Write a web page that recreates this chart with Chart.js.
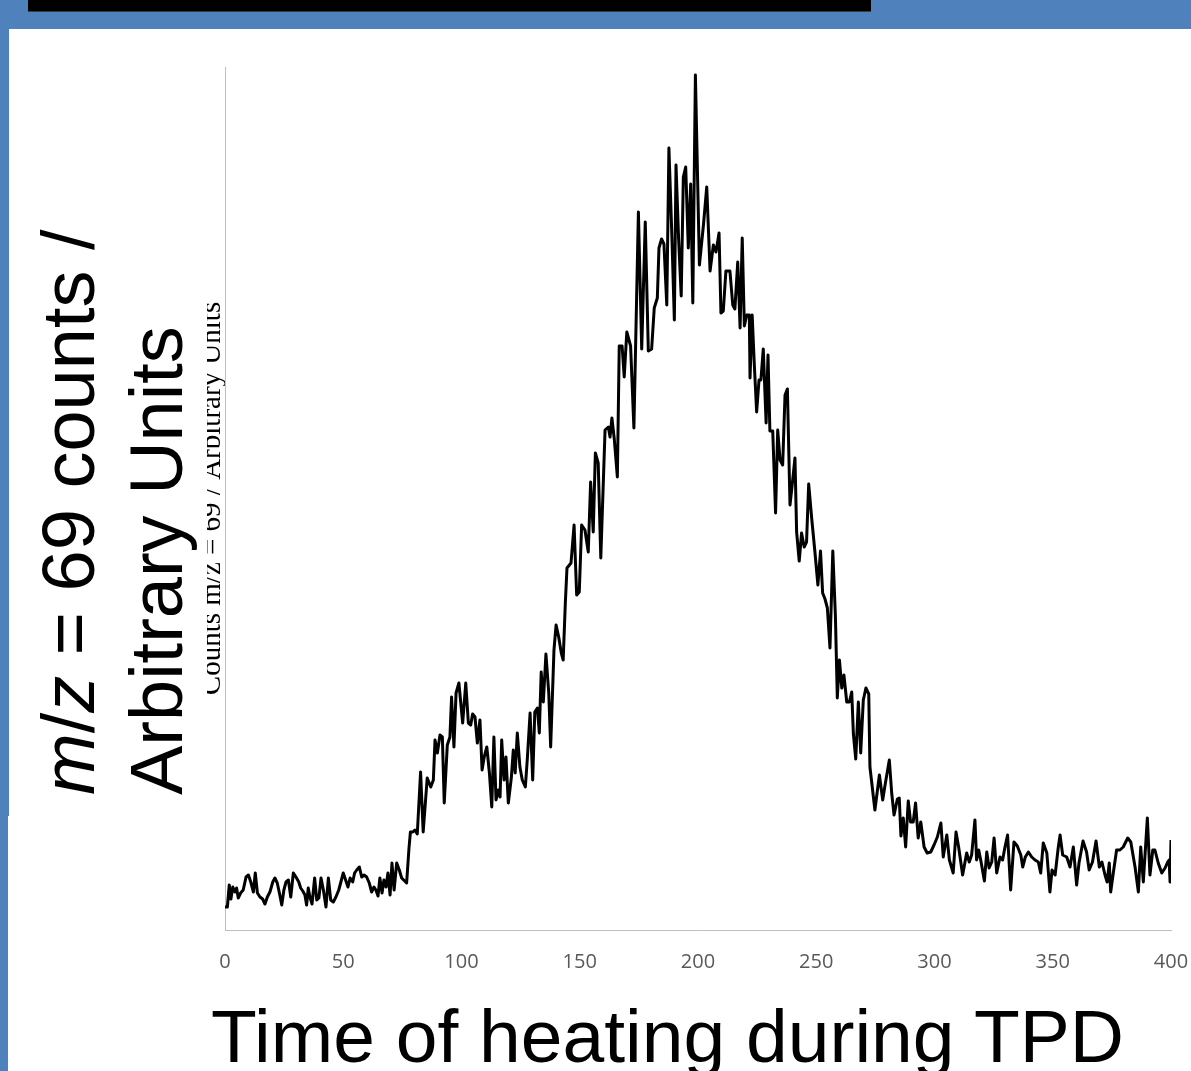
<!DOCTYPE html>
<html>
<head>
<meta charset="utf-8">
<script src="https://cdn.jsdelivr.net/npm/chart.js@4.4.1/dist/chart.umd.min.js"></script>
<style>
  html, body { margin: 0; padding: 0; background: #fff; overflow: hidden; }
  #wrap { position: relative; width: 1191px; height: 1071px; overflow: hidden; background: #fff; }
  #chart { position: absolute; left: 0; top: 0; }
  .band-top { position: absolute; left: 0; top: 0; width: 1191px; height: 29px; background: #4f81bd; }
  .title-bar { position: absolute; left: 28px; top: 0; width: 843px; height: 11px; background: #000; border-bottom: 1px solid #3b3b3b; }
  .band-left1 { position: absolute; left: 0; top: 29px; width: 9px; height: 787px; background: #4f81bd; }
  .band-left2 { position: absolute; left: 0; top: 816px; width: 8px; height: 255px; background: #4f81bd; }
  .ybox { position: absolute; left: 9px; top: 29px; width: 198px; height: 787px; background: #fff; }
  .ylabel {
    position: absolute; left: 25px; top: 795px; width: 700px;
    transform-origin: 0 0; transform: rotate(-90deg);
    font-family: "Liberation Sans", Arial, sans-serif; font-size: 74px; line-height: 88px;
    color: #000; white-space: nowrap;
  }
  .xlabel {
    position: absolute; left: 211px; top: 999px;
    font-family: "Liberation Sans", Arial, sans-serif; font-size: 75px; line-height: 75px;
    color: #000; white-space: nowrap;
  }
</style>
</head>
<body>
<div id="wrap">
  <canvas id="chart" width="1191" height="1071"></canvas>
  <div class="band-top"></div>
  <div class="title-bar"></div>
  <div class="band-left1"></div>
  <div class="band-left2"></div>
  <div class="ybox"></div>
  <div class="ylabel"><i>m</i>/<i>z</i> = 69 counts /<br>Arbitrary Units</div>
  <div class="xlabel">Time of heating during TPD</div>
</div>
<script>
// time of heating (s)
const timeSec = [
  0, 1.0, 1.8, 2.5, 3.3, 4.2, 4.9, 5.6, 6.6, 7.7, 8.9, 9.9, 10.9, 12.0, 12.8, 13.7, 14.8, 15.9, 16.9, 17.9,
  19.0, 20.2, 21.1, 22.1, 23.0, 24.0, 24.9, 25.8, 26.8, 27.8, 28.9, 30.0, 31.2, 32.0, 32.9, 33.8, 34.5, 35.2, 35.9, 36.8,
  37.9, 38.8, 39.7, 40.6, 41.6, 42.7, 43.7, 44.7, 45.8, 46.9, 48.1, 49.0, 50.0, 51.0, 52.0, 52.9, 54.0, 54.8, 55.7, 56.8,
  57.8, 58.8, 59.9, 61.0, 62.0, 63.0, 63.8, 64.7, 65.5, 66.4, 67.2, 68.1, 68.9, 69.8, 70.6, 71.5, 72.6, 73.7, 74.7, 76.8,
  77.8, 78.4, 79.4, 80.3, 81.3, 82.7, 83.8, 85.5, 87.0, 88.1, 88.8, 89.8, 90.9, 91.9, 92.7, 94.0, 95.1, 95.8, 96.8, 97.7,
  98.9, 100.5, 101.8, 102.9, 103.9, 104.7, 105.7, 106.7, 107.8, 108.7, 109.6, 110.7, 111.8, 112.8, 113.7, 114.6, 115.6, 116.3, 117.0, 118.0,
  118.8, 119.8, 121.1, 121.9, 122.7, 123.6, 124.7, 125.7, 127.0, 127.8, 129.0, 130.1, 131.0, 132.1, 132.9, 133.7, 134.6, 135.7, 136.9, 137.7,
  139.1, 140.0, 141.1, 142.2, 143.0, 143.9, 144.6, 146.3, 147.6, 148.7, 149.8, 150.8, 152.2, 153.6, 154.6, 155.7, 156.6, 157.8, 158.9, 160.7,
  162.1, 162.8, 163.6, 164.6, 165.9, 166.7, 167.9, 168.8, 169.9, 171.5, 172.9, 174.8, 176.2, 177.7, 179.0, 180.4, 181.5, 182.8, 183.5, 184.6,
  185.6, 186.8, 187.7, 188.9, 190.0, 190.7, 191.8, 192.9, 193.8, 194.8, 195.9, 196.9, 197.8, 198.9, 200.6, 202.3, 203.7, 205.1, 206.5, 207.6,
  208.9, 209.7, 210.7, 211.8, 213.5, 214.7, 215.6, 216.8, 217.8, 218.7, 219.6, 220.6, 221.7, 222.0, 222.9, 223.8, 224.8, 225.8, 226.6, 227.6,
  228.8, 229.6, 230.4, 231.6, 232.8, 233.7, 234.7, 235.8, 236.8, 237.8, 238.9, 240.0, 241.0, 241.7, 242.8, 243.8, 244.9, 245.9, 246.8, 248.1,
  249.4, 250.7, 251.8, 252.7, 253.7, 254.7, 255.8, 257.0, 258.1, 258.9, 259.8, 260.8, 261.7, 262.9, 264.0, 265.0, 265.7, 266.7, 267.8, 268.8,
  269.9, 271.0, 272.2, 272.7, 274.8, 276.7, 278.1, 279.1, 280.9, 281.9, 282.9, 284.3, 285.1, 285.8, 286.8, 287.8, 288.9, 289.9, 291.0, 292.0,
  293.1, 294.2, 295.6, 296.9, 298.4, 299.8, 301.2, 302.7, 303.7, 305.2, 306.3, 307.9, 309.1, 310.2, 311.9, 313.6, 314.7, 315.7, 317.1, 317.8,
  318.7, 319.7, 321.1, 322.1, 323.1, 324.2, 325.2, 326.3, 327.7, 328.8, 329.8, 330.9, 332.2, 333.6, 335.0, 336.5, 337.3, 338.4, 339.7, 341.1,
  342.5, 343.9, 344.9, 346.0, 347.5, 348.8, 349.7, 351.0, 352.3, 353.1, 354.2, 355.9, 357.3, 358.7, 360.1, 361.1, 362.8, 364.3, 365.4, 366.8,
  368.3, 369.7, 370.8, 372.1, 373.0, 373.9, 374.5, 375.6, 377.0, 378.4, 379.8, 381.7, 383.0, 384.8, 386.2, 387.2, 388.3, 390.0, 391.1, 392.3,
  393.2, 394.6, 396.1, 397.5, 398.6, 399.2, 399.6, 400.0
];

// m/z = 69 counts (arbitrary units)
const counts69 = [
  23, 23, 45, 31, 43, 38, 42, 32, 37, 40, 53, 55, 48, 38, 57, 37, 33, 31, 26, 33,
  38, 48, 52, 47, 37, 25, 40, 48, 50, 33, 57, 53, 48, 42, 39, 35, 25, 42, 33, 26,
  52, 30, 32, 52, 40, 23, 52, 30, 28, 33, 40, 48, 57, 50, 43, 52, 48, 57, 60, 63,
  53, 55, 53, 47, 38, 43, 40, 34, 52, 37, 50, 43, 57, 35, 67, 40, 67, 60, 52, 47,
  82, 98, 98, 100, 96, 158, 98, 152, 143, 150, 190, 177, 195, 193, 127, 185, 193, 233, 183, 237,
  247, 207, 247, 207, 205, 216, 213, 187, 210, 160, 173, 183, 157, 123, 193, 130, 140, 133, 190, 150,
  173, 127, 153, 180, 157, 197, 163, 150, 143, 170, 217, 150, 218, 222, 197, 258, 228, 276, 237, 183,
  280, 305, 293, 277, 270, 327, 362, 367, 405, 335, 338, 405, 400, 378, 448, 398, 477, 467, 372, 500,
  503, 493, 512, 491, 453, 584, 584, 553, 598, 584, 502, 718, 581, 708, 579, 581, 622, 632, 682, 691,
  686, 625, 782, 698, 610, 765, 691, 634, 753, 763, 682, 746, 627, 855, 665, 705, 743, 659, 685, 678,
  697, 617, 619, 659, 659, 625, 621, 668, 602, 692, 604, 615, 615, 552, 615, 566, 518, 550, 550, 581,
  507, 575, 499, 499, 417, 500, 470, 465, 535, 541, 425, 449, 472, 398, 369, 397, 383, 388, 446, 411,
  379, 345, 379, 337, 331, 322, 282, 379, 314, 232, 270, 242, 255, 228, 228, 238, 196, 171, 228, 177,
  230, 242, 236, 163, 120, 155, 130, 145, 170, 137, 115, 131, 132, 94, 112, 83, 129, 108, 108, 127,
  92, 108, 83, 77, 78, 85, 93, 107, 73, 95, 70, 57, 98, 83, 55, 77, 68, 75, 110, 70,
  80, 68, 49, 78, 62, 68, 92, 57, 73, 70, 83, 95, 40, 88, 84, 75, 63, 73, 78, 73,
  70, 68, 57, 87, 77, 38, 60, 55, 82, 95, 75, 73, 63, 83, 45, 67, 89, 78, 60, 68,
  89, 63, 68, 55, 48, 67, 38, 57, 80, 80, 83, 92, 88, 63, 38, 83, 48, 112, 55, 80,
  80, 67, 57, 62, 68, 70, 48, 90
];

const xTicks = [0, 50, 100, 150, 200, 250, 300, 350, 400];

const points = timeSec.map((t, i) => ({ x: t, y: counts69[i] }));

const ctx = document.getElementById('chart').getContext('2d');
new Chart(ctx, {
  type: 'line',
  data: {
    datasets: [{
      data: points,
      borderColor: '#000000',
      borderWidth: 3,
      borderJoinStyle: 'round',
      pointRadius: 0,
      tension: 0,
      fill: false
    }]
  },
  options: {
    responsive: false,
    animation: false,
    devicePixelRatio: 1,
    layout: { padding: { left: 198.9, top: 67, right: 20, bottom: 101 } },
    plugins: { legend: { display: false }, tooltip: { enabled: false } },
    scales: {
      x: {
        type: 'linear',
        min: xTicks[0],
        max: xTicks[xTicks.length - 1],
        grid: { display: false, drawTicks: false },
        border: { display: true, color: '#bfbfbf', width: 1 },
        afterBuildTicks: (axis) => { axis.ticks = xTicks.map(v => ({ value: v })); },
        afterFit: (axis) => { axis.paddingLeft = 0; axis.paddingRight = 0; axis.height = 40; },
        ticks: {
          color: '#595959',
          font: { family: 'Open Sans', size: 20 },
          padding: 20,
          maxRotation: 0
        }
      },
      y: {
        min: 0,
        max: 863,
        grid: { display: false, drawTicks: false },
        border: { display: true, color: '#bfbfbf', width: 1 },
        ticks: { display: false },
        afterFit: (axis) => { axis.width = 26.1; axis.paddingTop = 0; axis.paddingBottom = 0; },
        title: {
          display: true,
          text: 'Counts m/z = 69 / Arbitrary Units',
          color: '#000',
          font: { family: 'Liberation Serif', size: 29, lineHeight: 0.9 },
          padding: 0
        }
      }
    }
  }
});
</script>
</body>
</html>
